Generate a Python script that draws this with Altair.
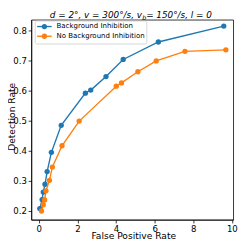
import altair as alt
import pandas as pd

series_names = ["Background Inhibition", "No Background Inhibition"]
series_colors = ["#1f77b4", "#ff7f0e"]

fpr_bg = [0.05, 0.17, 0.23, 0.32, 0.43, 0.65, 1.16, 2.41, 2.69, 3.48, 4.37, 6.19, 9.58]
det_bg = [0.207, 0.237, 0.262, 0.288, 0.330, 0.394, 0.484, 0.591, 0.601, 0.646, 0.703, 0.761, 0.814]

fpr_nobg = [0.14, 0.23, 0.30, 0.37, 0.55, 0.70, 1.20, 2.09, 4.01, 4.28, 5.13, 6.08, 7.57, 9.69]
det_nobg = [0.199, 0.220, 0.236, 0.266, 0.301, 0.345, 0.416, 0.498, 0.614, 0.625, 0.662, 0.698, 0.730, 0.735]

x_ticks = [0, 2, 4, 6, 8, 10]
y_ticks = [0.2, 0.3, 0.4, 0.5, 0.6, 0.7, 0.8]

title_a = "d = 2°, v = 300°/s, v"
title_b = "b"
title_c = " = 150°/s, l = 0"

rows = []
for n, xs, ys in [(series_names[0], fpr_bg, det_bg), (series_names[1], fpr_nobg, det_nobg)]:
    for i, (xv, yv) in enumerate(zip(xs, ys)):
        rows.append({"series": n, "fpr": xv, "det": yv, "i": i})
df = pd.DataFrame(rows)

FONT = "DejaVu Sans"
W, H = 208, 206

xs = alt.X("fpr:Q", title="False Positive Rate",
           scale=alt.Scale(domain=[-0.39, 10.07], nice=False, zero=False),
           axis=alt.Axis(values=x_ticks, format="d", titleX=105, titleY=19,
                         titleBaseline="alphabetic", labelPadding=1.5))
ys = alt.Y("det:Q", title="Detection Rate",
           scale=alt.Scale(domain=[0.170, 0.835], nice=False, zero=False),
           axis=alt.Axis(values=y_ticks, format=".1f", titleX=-16.8, titleY=99.5,
                         titleBaseline="alphabetic", labelPadding=1.8))
col = alt.Color("series:N", scale=alt.Scale(domain=series_names, range=series_colors), legend=None)

base = alt.Chart(df)
layers = []
for n in series_names:
    layers.append(
        base.transform_filter(alt.datum.series == n)
        .mark_line(strokeWidth=1.4, point=alt.OverlayMarkDef(filled=True, size=30, opacity=1))
        .encode(x=xs, y=ys, color=col, order="i:Q")
    )

one = alt.Data(values=[{"k": 1}])
TY = -1.6
# title pieces
layers.append(alt.Chart(one).mark_text(align="right", baseline="alphabetic", font=FONT,
                                       fontSize=9.1, fontStyle="italic", color="black")
              .encode(x=alt.value(114), y=alt.value(TY), text=alt.value(title_a)))
layers.append(alt.Chart(one).mark_text(align="left", baseline="alphabetic", font=FONT,
                                       fontSize=6.5, fontStyle="italic", color="black")
              .encode(x=alt.value(114.3), y=alt.value(TY + 1.8), text=alt.value(title_b)))
layers.append(alt.Chart(one).mark_text(align="left", baseline="alphabetic", font=FONT,
                                       fontSize=9.1, fontStyle="italic", color="black")
              .encode(x=alt.value(118.3), y=alt.value(TY), text=alt.value(title_c)))

# legend
layers.append(alt.Chart(one).mark_rect(fill="white", fillOpacity=0.8, stroke="#cccccc",
                                       strokeWidth=0.8, cornerRadius=2)
              .encode(x=alt.value(4), x2=alt.value(119), y=alt.value(1.3), y2=alt.value(25)))
for k, (n, c) in enumerate(zip(series_names, series_colors)):
    yy = 7 + 10 * k
    layers.append(alt.Chart(one).mark_rule(color=c, strokeWidth=1.4)
                  .encode(x=alt.value(6), x2=alt.value(21), y=alt.value(yy)))
    layers.append(alt.Chart(one).mark_point(filled=True, size=30, opacity=1, color=c)
                  .encode(x=alt.value(13.5), y=alt.value(yy)))
    layers.append(alt.Chart(one).mark_text(align="left", baseline="middle", font=FONT,
                                           fontSize=7.2, color="black")
                  .encode(x=alt.value(26), y=alt.value(yy), text=alt.value(n)))

chart = alt.layer(*layers).properties(
    width=W, height=H,
    autosize=alt.AutoSizeParams(type="none"),
    padding={"left": 24, "top": 8.5, "right": 8, "bottom": 25},
).configure_view(stroke="black", strokeWidth=0.8).configure_axis(
    labelFont=FONT, labelFontSize=8.8, labelColor="black",
    titleFont=FONT, titleFontSize=9.4, titleFontWeight="normal", titleColor="black",
    tickColor="black", tickWidth=0.8, tickSize=3.3,
    domainColor="black", domainWidth=0.8, grid=False,
)

chart.save("out.html", embed_options={"renderer": "svg", "actions": False})
